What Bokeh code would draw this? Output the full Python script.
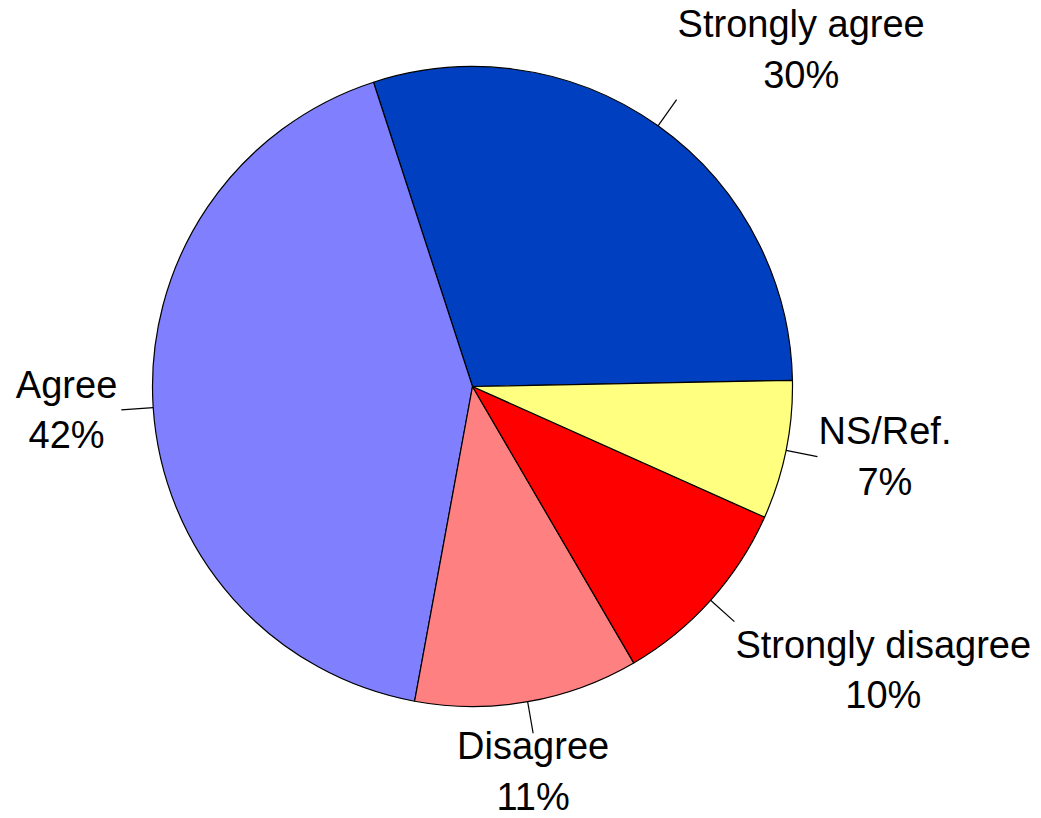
import math
from bokeh.plotting import figure
from bokeh.models import Range1d, ColumnDataSource
from bokeh.core.properties import value
from bokeh.embed import file_html
from bokeh.resources import INLINE

# Data (shares, in percent)
categories = ["Strongly agree", "Agree", "Disagree", "Strongly disagree", "NS/Ref."]
shares = [29.7, 42.1, 11.3, 9.9, 7.0]
colors = ["#0040C0", "#8080FF", "#FF8080", "#FF0000", "#FFFF80"]

START_DEG = 1.1
R = 320
CX, CY = 472, 386  # screen position of centre
FS = 38
LH = 1.2

W, H = 1041, 818
p = figure(width=W, height=H, output_backend="svg", toolbar_location=None,
           x_range=Range1d(-CX, W - CX), y_range=Range1d(CY - H, CY),
           min_border=0, match_aspect=False)
p.axis.visible = False
p.grid.visible = False
p.outline_line_color = None
p.background_fill_color = "white"
p.border_fill_color = "white"

total = sum(shares)
starts, ends = [], []
a = math.radians(START_DEG)
for s in shares:
    starts.append(a)
    a += 2 * math.pi * s / total
    ends.append(a)

src = ColumnDataSource(dict(start=starts, end=ends, color=colors))
p.wedge(x=0, y=0, radius=R, start_angle="start", end_angle="end", direction="anticlock",
        fill_color="color", line_color="black", line_width=1.2, source=src)

mids = [(s + e) / 2 for s, e in zip(starts, ends)]
x0 = [R * math.cos(m) for m in mids]
y0 = [R * math.sin(m) for m in mids]
x1 = [1.1 * R * math.cos(m) for m in mids]
y1 = [1.1 * R * math.sin(m) for m in mids]
p.segment(x0=x0, y0=y0, x1=x1, y1=y1, line_color="black", line_width=1.2)

box_h = 2 * FS * LH
bottom_limit = CY - H + 2
for cat, s, m in zip(categories, shares, mids):
    c, sn = math.cos(m), math.sin(m)
    h = "left" if c > 0.3 else ("right" if c < -0.3 else "center")
    v = "bottom" if sn > 0.5 else ("top" if sn < -0.5 else "center")
    anchor = "center" if (h == "center" and v == "center") else f"{v}_{h}"
    lx = 1.1 * R * c + (1 if h == "left" else (-4 if h == "right" else 0))
    ly = 1.1 * R * sn + (-2 if v == "top" else (4 if v == "bottom" else 0))
    if v == "top" and ly - box_h < bottom_limit:
        ly = bottom_limit + box_h
    p.text(x=[lx], y=[ly], text=[f"{cat}\n{round(s)}%"], anchor=anchor,
           text_align="center", text_baseline="middle",
           text_font=value("Liberation Sans"), text_font_size=f"{FS}px",
           text_line_height=LH, text_color="black")

open("out.html", "w").write(file_html(p, INLINE))
